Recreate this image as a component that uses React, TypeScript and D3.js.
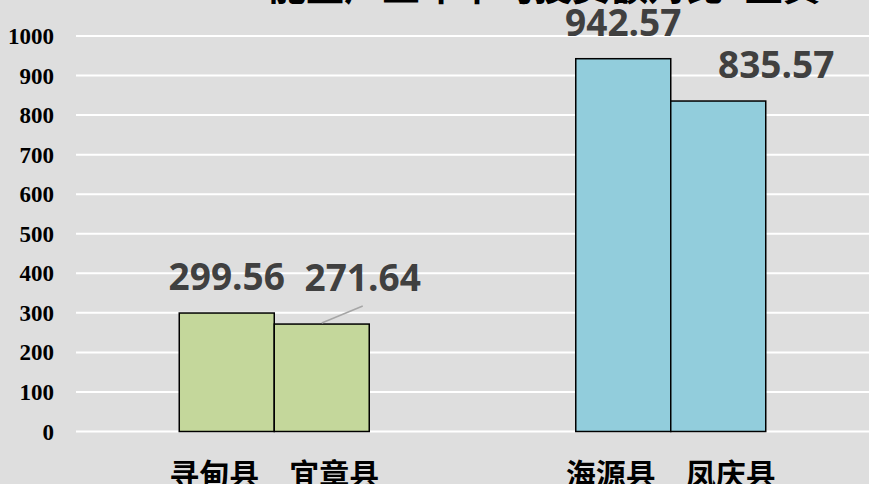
import React from "react";
import * as d3 from "d3";

const groups = ["g1", "g2"];
const groupLabels = [["寻甸县", "宜章县"], ["海源县", "凤庆县"]];
const groupValues = [[299.56, 271.64], [942.57, 835.57]];
const groupColors = ["#c4d79b", "#92cddc"];
const yTicks = [0, 100, 200, 300, 400, 500, 600, 700, 800, 900, 1000];
const titleText = "能量产业年平均投资额对比–正資";

const W = 869;
const H = 484;

export default function App() {
  const x = d3.scaleBand<string>().domain(groups).range([76, W]).padding(0);
  const inner = d3
    .scaleBand<string>()
    .domain(["0", "1"])
    .range([0, x.bandwidth()])
    .paddingInner(0)
    .paddingOuter(1.087);
  const y = d3.scaleLinear().domain([0, 1000]).range([431.5, 36]);

  // label adjustments (drawing only)
  const labelShift: Record<string, [number, number]> = {
    "0-1": [41, -10],
    "1-1": [58, 0],
  };

  return (
    <svg
      width={W}
      height={H}
      style={{ position: "absolute", left: 0, top: 0, background: "#dedede" }}
    >
      <rect x={0} y={0} width={W} height={H} fill="#dedede" />
      <text
        x={268}
        y={0}
        fontFamily="'Noto Sans CJK SC'"
        fontWeight="bold"
        fontSize={38}
        fill="#000"
      >
        {titleText}
      </text>
      {yTicks.map((t) => (
        <g key={t}>
          <line x1={76} x2={W} y1={y(t)} y2={y(t)} stroke="#ffffff" strokeWidth={2} />
          <text
            x={54}
            y={y(t) + 8}
            textAnchor="end"
            fontFamily="'Liberation Serif', serif"
            fontWeight="bold"
            fontSize={23}
            fill="#000"
          >
            {t}
          </text>
        </g>
      ))}
      {groups.map((g, gi) => {
        const gx = x(g)!;
        return (
          <g key={g}>
            {groupValues[gi].map((v, i) => {
              const bx = gx + inner(String(i))!;
              const bw = inner.bandwidth();
              return (
                <rect
                  key={i}
                  x={bx}
                  y={y(v)}
                  width={bw}
                  height={y(0) - y(v)}
                  fill={groupColors[gi]}
                  stroke="#000"
                  strokeWidth={1.5}
                />
              );
            })}
            {groupValues[gi].map((v, i) => {
              const bx = gx + inner(String(i))!;
              const cx = bx + inner.bandwidth() / 2;
              const [dx, dy] = labelShift[`${gi}-${i}`] || [0, 0];
              const ly = y(v) - 23 + dy;
              return (
                <g key={"l" + i}>
                  {dx !== 0 && dy !== 0 && (
                    <line
                      x1={cx + dx}
                      y1={ly + 15}
                      x2={cx}
                      y2={y(v) - 1}
                      stroke="#a6a6a6"
                      strokeWidth={1.5}
                    />
                  )}
                  <text
                    x={cx + dx}
                    y={ly}
                    textAnchor="middle"
                    fontFamily="'Open Sans', sans-serif"
                    fontWeight="bold"
                    fontSize={37}
                    fill="#404040"
                  >
                    {v.toFixed(2)}
                  </text>
                </g>
              );
            })}
            <text
              x={gx + x.bandwidth() / 2}
              y={485}
              textAnchor="middle"
              fontFamily="'Noto Sans CJK SC'"
              fontWeight="bold"
              fontSize={30}
              fill="#000"
            >
              {groupLabels[gi].join("\u3000")}
            </text>
          </g>
        );
      })}
    </svg>
  );
}
